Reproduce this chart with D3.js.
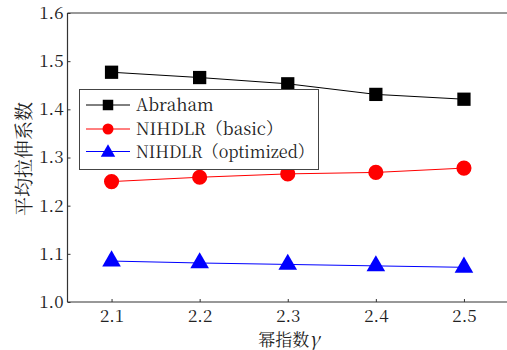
<!DOCTYPE html>
<html><head><meta charset="utf-8">
<script src="https://cdn.jsdelivr.net/npm/d3@7"></script>
</head>
<body style="margin:0;background:#fff">
<svg id="c" width="507" height="350" font-family="Noto Serif CJK SC"></svg>
<script>
const xValues = [2.1, 2.2, 2.3, 2.4, 2.5];
const abraham = [1.477, 1.466, 1.453, 1.431, 1.421];
const basic = [1.250, 1.259, 1.266, 1.269, 1.278];
const optimized = [1.085, 1.081, 1.078, 1.075, 1.072];
const seriesNames = ["Abraham", "NIHDLR（basic）", "NIHDLR（optimized）"];
const yTicks = [1.0, 1.1, 1.2, 1.3, 1.4, 1.5, 1.6];
const xTicks = [2.1, 2.2, 2.3, 2.4, 2.5];
const xTitle = "幂指数";
const xSymbol = "γ";
const yTitle = "平均拉伸系数";

const FONT = "Noto Serif CJK SC";

const svg = d3.select("#c");
const pLeft = 67.5, pRight = 508, pTop = 13, pBottom = 302;
const x = d3.scaleLinear().domain([2.05, 2.55]).range([pLeft, pRight]);
const y = d3.scaleLinear().domain([1.0, 1.6]).range([pBottom, pTop]);

svg.append("line").attr("x1", pLeft).attr("x2", 507).attr("y1", pTop).attr("y2", pTop)
  .attr("stroke", "#777").attr("stroke-width", 1.5);

const yAxis = svg.append("g").attr("transform", `translate(${pLeft},0)`)
  .call(d3.axisLeft(y).tickValues(yTicks).tickFormat(d3.format(".1f")).tickSize(-3).tickPadding(4));
const xAxis = svg.append("g").attr("transform", `translate(0,${pBottom})`)
  .call(d3.axisBottom(x).tickValues(xTicks).tickFormat(d3.format(".1f")).tickSize(-3).tickPadding(8));
[yAxis, xAxis].forEach(g => {
  g.attr("font-family", FONT).attr("font-size", 17);
  g.select(".domain").attr("stroke", "#333").attr("stroke-width", 1.2);
  g.selectAll(".tick line").attr("stroke", "#333");
  g.selectAll("text").attr("font-family", FONT).attr("font-size", 17).attr("fill", "#222");
});
yAxis.select(".domain").attr("d", `M0,${pBottom}V${pTop}`);
xAxis.select(".domain").attr("d", `M${pLeft},0H507`);

const series = [
  {name: seriesNames[0], vals: abraham, color: "#000", shape: d3.symbolSquare, size: 176, lsize: 110},
  {name: seriesNames[1], vals: basic, color: "#f00", shape: d3.symbolCircle, size: 180, lsize: 95},
  {name: seriesNames[2], vals: optimized, color: "#00f", shape: d3.symbolTriangle, size: 150, lsize: 90},
];

const line = d3.line().x((d, i) => x(xValues[i])).y(d => y(d));
series.forEach(s => {
  svg.append("path").attr("d", line(s.vals)).attr("fill", "none")
    .attr("stroke", s.color).attr("stroke-width", 1);
  svg.selectAll(null).data(s.vals).enter().append("path")
    .attr("d", d3.symbol().type(s.shape).size(s.size)())
    .attr("transform", (d, i) => `translate(${x(xValues[i])},${y(d)})`)
    .attr("fill", s.color);
});

const lg = svg.append("g");
lg.append("rect").attr("x", 79.5).attr("y", 89.5).attr("width", 239).attr("height", 80)
  .attr("fill", "#fff").attr("stroke", "#444").attr("stroke-width", 1);
const rowsY = [105, 129, 151.5];
series.forEach((s, i) => {
  const ry = rowsY[i];
  lg.append("line").attr("x1", 86).attr("x2", 130).attr("y1", ry).attr("y2", ry)
    .attr("stroke", s.color).attr("stroke-width", 1);
  lg.append("path").attr("d", d3.symbol().type(s.shape).size(s.lsize)())
    .attr("transform", `translate(108,${ry + (i === 2 ? 1 : 0)})`).attr("fill", s.color);
  lg.append("text").attr("x", 136).attr("y", ry + 6)
    .attr("font-family", FONT).attr("font-size", 17).attr("fill", "#222")
    .attr("textLength", i === 2 ? 178 : null).attr("lengthAdjust", "spacingAndGlyphs")
    .text(s.name);
});

const xt = svg.append("text").attr("x", 289).attr("y", 346).attr("text-anchor", "middle")
  .attr("font-family", FONT).attr("font-size", 17).attr("fill", "#222");
xt.append("tspan").text(xTitle);
xt.append("tspan").attr("font-style", "italic").attr("font-size", 19).text(xSymbol);
svg.append("text").attr("transform", "translate(31,159) rotate(-90)")
  .attr("text-anchor", "middle").attr("font-size", 19).attr("fill", "#222")
  .attr("font-family", FONT).text(yTitle);
</script>
</body></html>
